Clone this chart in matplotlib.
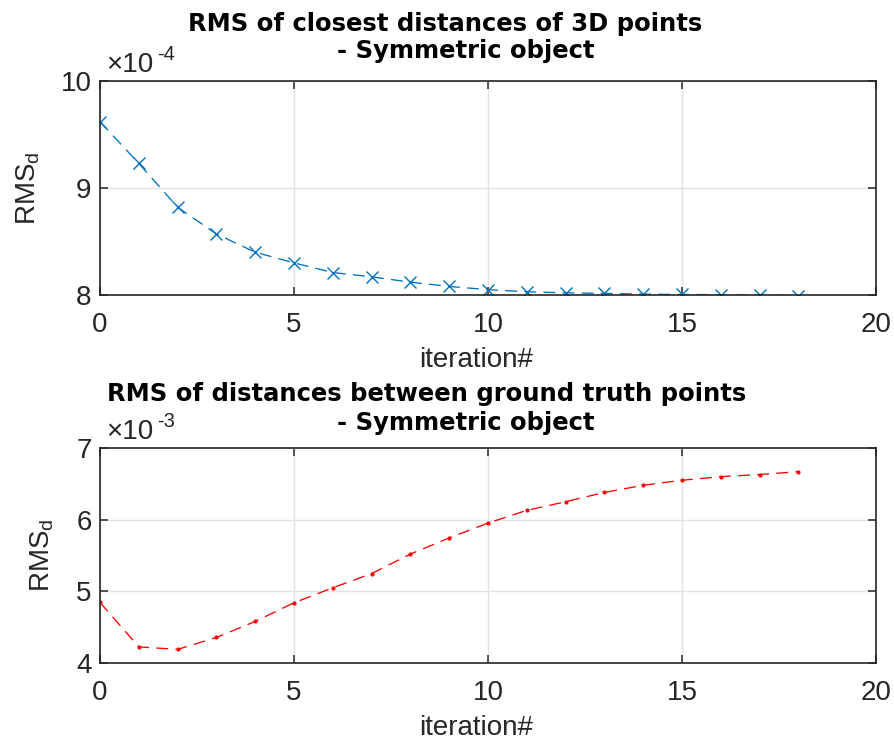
import matplotlib
matplotlib.use('Agg')
import matplotlib.pyplot as plt

plt.rcParams['font.family'] = ['Liberation Sans', 'DejaVu Sans']
plt.rcParams['mathtext.fontset'] = 'custom'
plt.rcParams['mathtext.rm'] = 'Liberation Sans'
plt.rcParams['mathtext.it'] = 'Liberation Sans'

iterations = list(range(19))
# RMS of closest 3D point distances, in units of 1e-4
rms_closest = [9.62, 9.23, 8.82, 8.57, 8.40, 8.30, 8.21, 8.17, 8.12, 8.08,
               8.05, 8.03, 8.02, 8.015, 8.008, 8.005, 8.003, 8.0, 7.995]
# RMS of ground-truth point distances, in units of 1e-3
rms_ground = [4.845, 4.225, 4.19, 4.356, 4.58, 4.84, 5.05, 5.247, 5.52, 5.745,
              5.953, 6.13, 6.25, 6.38, 6.48, 6.55, 6.60, 6.63, 6.67]

AX_COLOR = '#262626'
W, H = 894, 741

fig = plt.figure(figsize=(W / 100, H / 100), dpi=100)


def px(x, y):
    # pixel position (from top-left) -> figure fraction
    return x / W, 1 - y / H


def make_axes(top, bottom, ylabel_x):
    ax = fig.add_axes([100 / W, 1 - bottom / H, 776 / W, (bottom - top) / H])
    ax.grid(True, color='#e3e3e3', linewidth=1.0)
    ax.set_axisbelow(True)
    ax.tick_params(direction='in', top=True, right=True, labelsize=20,
                   colors=AX_COLOR, length=6, width=1.1)
    ax.tick_params(axis='x', pad=12)
    ax.tick_params(axis='y', pad=6)
    for s in ax.spines.values():
        s.set_color(AX_COLOR)
        s.set_linewidth(1.2)
    ax.set_xlim(0, 20)
    ax.set_xticks([0, 5, 10, 15, 20])
    ax.set_xlabel('iteration#', fontsize=20, color=AX_COLOR)
    ax.xaxis.set_label_coords((476 - 100) / 776, -(347 - 295) / 214)
    ax.set_ylabel('RMS$_\\mathregular{d}$', fontsize=20, color=AX_COLOR)
    ax.yaxis.set_label_coords((ylabel_x - 100) / 776, 0.5)
    return ax


def offset_label(top, power):
    fig.text(*px(106, top - 9), '\u00d710', fontsize=20, color=AX_COLOR,
             va='baseline', ha='left')
    fig.text(*px(157, top - 21), power, fontsize=14.5, color=AX_COLOR,
             va='baseline', ha='left')


def title(lines):
    for (cx, base), txt in lines:
        fig.text(*px(cx, base), txt, fontsize=17.5, fontweight='bold',
                 family='DejaVu Sans', color='black', ha='center', va='baseline')


ax1 = make_axes(81, 295, 42)
ax1.plot(iterations, rms_closest, linestyle='--', marker='x', color='#0072BD',
         linewidth=0.95, markersize=8, markeredgewidth=1.0, dashes=(9, 5.5))
ax1.set_ylim(8, 10)
ax1.set_yticks([8, 9, 10])
offset_label(81, '-4')
title([((445, 31.5), 'RMS of closest distances of 3D points'),
       ((466, 58), '- Symmetric object')])

ax2 = make_axes(448, 663, 56)
ax2.plot(iterations, rms_ground, linestyle='--', marker='.', color='red',
         linewidth=0.95, markersize=4, dashes=(9, 5.5))
ax2.set_ylim(4, 7)
ax2.set_yticks([4, 5, 6, 7])
offset_label(448, '-3')
title([((427, 401.5), 'RMS of distances between ground truth points'),
       ((466, 430), '- Symmetric object')])

fig.savefig('out.png', dpi=100)
